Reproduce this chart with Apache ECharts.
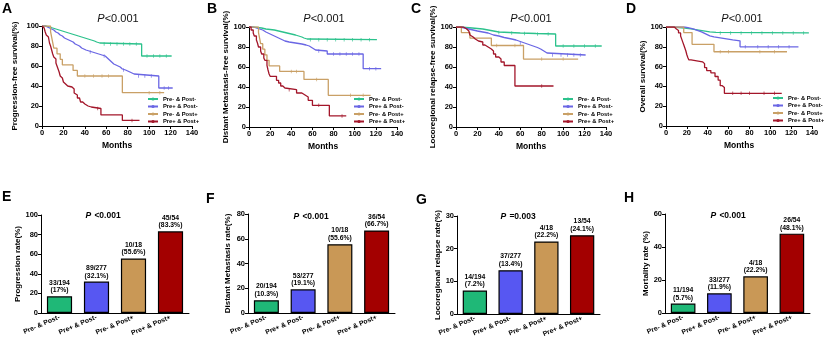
<!DOCTYPE html>
<html>
<head>
<meta charset="utf-8">
<script src="https://cdn.jsdelivr.net/npm/echarts@6/dist/echarts.min.js"></script>
<style>
  html, body { margin: 0; padding: 0; background: #fff; }
  #main { width: 824px; height: 350px; }
</style>
</head>
<body>
<div id="main"></div>
<script>
// groups + colours
const groups = ['Pre- & Post-', 'Pre+ & Post-', 'Pre- & Post+', 'Pre+ & Post+'];
const lineColors = ['#2cc28c', '#6a66e4', '#c9a066', '#a3162a'];
const barColors = ['#1fb877', '#5757f2', '#c99856', '#a30000'];

// KM steps: [month, survival %]
const pfsNeg = [[0,100],[4,99],[7,98],[10,97],[13,96],[16,95],[19,94],[22,93],[25,92],[28,91],[31,90],[34,89],[37,88],[40,87],[43,86],[46,85],[49,84],[51,83],[54,82],[93,70],[121,70]];
const pfsPre = [[0,100],[3,99],[5,98],[7,97],[9,96],[11,94],[13,93],[15,91],[17,90],[19,88],[21,87],[23,86],[25,85],[27,84],[29,82],[31,81],[33,80],[35,78],[37,77],[39,76],[41,75],[44,74],[47,73],[50,72],[53,71],[56,70],[59,68],[61,66],[63,64],[65,62],[67,61],[69,60],[71,59],[73,57],[75,56],[78,55],[80,54],[82,53],[84,52],[86,50],[109,38],[122,38]];
const pfsPost = [[0,100],[8,94.4],[9,88.9],[10,83.3],[11,77.8],[14,72.2],[17,66.7],[19,61.1],[29,55.6],[33,50],[75,33.3],[114,33.3]];
const pfsBoth = [[0,100],[1,98],[2,96],[3,94],[4,91],[5,89],[6,87],[7,83],[8,80],[9,76],[10,72],[11,69],[12,67],[13,63],[14,60],[15,57],[16,54],[17,50],[18,48],[19,46],[20,44],[21,42],[22,40],[24,39],[28,37],[30,33],[31,31],[33,28],[35,26],[36,24],[38,22],[40,20],[43,19],[46,17.5],[55,11.1],[75,5.6],[91,5.6]];

const dmfsNeg = [[0,100],[4,99.5],[8,99],[12,98],[16,97.5],[20,97],[24,96],[28,95],[32,94],[36,93],[40,92],[44,91],[47,90],[50,89],[52,88],[55,87.3],[121,87.3]];
const dmfsPre = [[0,100],[4,99],[7,98],[10,97],[13,95],[16,93.5],[19,92],[22,90.5],[25,89],[28,87.5],[31,86],[34,85],[38,84],[44,83],[50,82],[54,81],[57,79],[60,77],[63,76],[74,73],[108,58.3],[125,58.3]];
const dmfsPost = [[0,100],[9,94.4],[10,88.9],[11,83.3],[13,77.8],[15,72.2],[17,66.7],[19,61.1],[29,55.6],[52,47.6],[75,31.7],[115,31.7]];
const dmfsBoth = [[0,100],[2,97],[4,94],[5,91],[7,87],[8,84],[9,80],[11,76],[12,73],[14,69],[15,66.7],[17,61.7],[18,57],[19,53],[20,50.7],[26,46.7],[28,44],[30,41],[32,39],[34,37.3],[45,34],[50,32],[53,30],[56,26.7],[60,21.7],[76,11.1],[92,11.1]];

const lrfsNeg = [[0,100],[5,99.5],[10,99],[15,98.5],[20,98],[25,97],[30,96],[35,95],[40,94.5],[50,94],[60,93.5],[75,93],[93,81],[136,81]];
const lrfsPre = [[0,100],[4,99],[8,98],[12,97],[16,96],[20,95],[25,94],[30,92],[35,91],[40,89.5],[45,88],[52,87],[56,85.5],[60,84],[64,82.5],[68,81],[72,79.5],[76,78],[79,76],[82,74],[85,72],[121,72]];
const lrfsPost = [[0,100],[5,94.4],[13,88.9],[33,81.5],[63,67.9],[114,67.9]];
const lrfsBoth = [[0,100],[7,98],[10,96],[12,94],[13,92],[14,90],[16,88],[18,86],[21,85],[25,82],[27,80],[30,78],[33,76],[35,73],[37,70],[40,68],[42,65],[45,61.5],[55,41],[91,41]];

const osNeg = [[0,100],[6,99.5],[12,99],[18,98],[24,97],[30,96],[36,95],[42,94.5],[48,94],[137,94]];
const osPre = [[0,100],[18,99],[22,98],[26,96.5],[30,95],[34,93],[38,91],[42,90],[46,89],[52,88],[58,87],[64,86],[71,80],[127,80]];
const osPost = [[0,100],[17,94.4],[25,82.5],[46,75],[116,75]];
const osBoth = [[0,100],[8,98],[10,96.5],[12,94],[14,91],[15,88],[16,85],[17,82],[18,79],[19,76],[20,72],[21,69],[22,66.7],[24,64.8],[35,63],[37,59],[39,56],[43,53.7],[47,50],[50,46.3],[52,40.7],[54,38.9],[56,33],[111,33]];

// censor tick months
const pfsCens = [[58,64,70,76,82,88,98,104,110,116], [45,58,76,90,96,102,114,118], [40,48,56,62,100,110], [52,84]];
const dmfsCens = [[58,66,74,82,90,98,106,114], [66,80,86,92,98,104,114,120], [40,45,64,96,108], [38,66,88]];
const lrfsCens = [[40,52,64,76,86,100,110,120,130], [60,90,98,104,110,116], [38,55,80,100], [80]];
const osCens = [[52,62,72,82,92,102,112,122,132], [76,88,98,108,118], [52,60,90,104], [64,72,80,94,104]];

// bar panels
const barCats = ['Pre- & Post-', 'Pre+ & Post-', 'Pre- & Post+', 'Pre+ & Post+'];
const progressionRate = [17, 32.1, 55.6, 83.3];
const progressionCounts = ['33/194', '89/277', '10/18', '45/54'];
const progressionPct = ['17%', '32.1%', '55.6%', '83.3%'];
const metastasisRate = [10.3, 19.1, 55.6, 66.7];
const metastasisCounts = ['20/194', '53/277', '10/18', '36/54'];
const metastasisPct = ['10.3%', '19.1%', '55.6%', '66.7%'];
const relapseRate = [7.2, 13.4, 22.2, 24.1];
const relapseCounts = ['14/194', '37/277', '4/18', '13/54'];
const relapsePct = ['7.2%', '13.4%', '22.2%', '24.1%'];
const mortalityRate = [5.7, 11.9, 22.2, 48.1];
const mortalityCounts = ['11/194', '33/277', '4/18', '26/54'];
const mortalityPct = ['5.7%', '11.9%', '22.2%', '48.1%'];

const FONT = 'Liberation Sans, Arial, sans-serif';

const kmPanels = [
  { letter: 'A', lx: 2, ly: 2, curves: [pfsNeg, pfsPre, pfsPost, pfsBoth], cens: pfsCens, name: 'Progression-free survival(%)',
    grid: { left: 42, top: 26, width: 150, height: 100 }, gap: 23, legend: { left: 147, top: 96 }, px: 118, pv: '<0.001' },
  { letter: 'B', lx: 207, ly: 2, curves: [dmfsNeg, dmfsPre, dmfsPost, dmfsBoth], cens: dmfsCens, name: 'Distant Metastasis-free survival(%)',
    grid: { left: 249, top: 27, width: 148, height: 100 }, gap: 18, legend: { left: 353, top: 96 }, px: 324, pv: '<0.001' },
  { letter: 'C', lx: 411, ly: 2, curves: [lrfsNeg, lrfsPre, lrfsPost, lrfsBoth], cens: lrfsCens, name: 'Locoregional relapse-free survival(%)',
    grid: { left: 456, top: 27, width: 150, height: 100 }, gap: 19, legend: { left: 562, top: 96 }, px: 531, pv: '<0.001' },
  { letter: 'D', lx: 626, ly: 2, curves: [osNeg, osPre, osPost, osBoth], cens: osCens, name: 'Overall survival(%)',
    grid: { left: 666, top: 27, width: 146, height: 99 }, gap: 19, legend: { left: 772, top: 95 }, px: 742, pv: '<0.001' }
];

const barPanels = [
  { letter: 'E', lx: 2, ly: 190, rate: progressionRate, counts: progressionCounts, pct: progressionPct, name: 'Progression rate(%)',
    max: 100, interval: 20, grid: { left: 41, top: 215, width: 148, height: 98 }, gap: 19, px: 103, py: 216, pv: '<0.001' },
  { letter: 'F', lx: 206, ly: 192, rate: metastasisRate, counts: metastasisCounts, pct: metastasisPct, name: 'Distant Metastasis rate(%)',
    max: 80, interval: 20, grid: { left: 248, top: 214, width: 147, height: 99 }, gap: 16, px: 311, py: 217, pv: '<0.001' },
  { letter: 'G', lx: 416, ly: 193, rate: relapseRate, counts: relapseCounts, pct: relapsePct, name: 'Locoregional relapse rate(%)',
    max: 30, interval: 10, grid: { left: 457, top: 216, width: 143, height: 98 }, gap: 14, px: 518, py: 217, pv: '=0.003' },
  { letter: 'H', lx: 624, ly: 191, rate: mortalityRate, counts: mortalityCounts, pct: mortalityPct, name: 'Mortality rate (%)',
    max: 60, interval: 20, grid: { left: 665, top: 214, width: 145, height: 99 }, gap: 14, px: 728, py: 216, pv: '<0.001' }
];

function survivalAt(steps, t) {
  let s = steps[0][1];
  for (const [m, v] of steps) { if (m <= t) s = v; }
  return s;
}

const axisLine = { lineStyle: { color: '#000', width: 1 } };
const axisTick = { length: 3, lineStyle: { color: '#000', width: 1 } };
const tickLabel = { color: '#000', fontSize: 7.5, fontWeight: 'bold', fontFamily: FONT, margin: 3 };

const grid = [], xAxis = [], yAxis = [], series = [], legend = [], graphic = [];

kmPanels.forEach((p, i) => {
  grid.push(p.grid);
  xAxis.push({
    gridIndex: i, type: 'value', min: 0, max: 140, interval: 20,
    name: 'Months', nameLocation: 'middle', nameGap: 15,
    nameTextStyle: { color: '#000', fontSize: 8.5, fontWeight: 'bold', fontFamily: FONT },
    axisLine, axisTick, axisLabel: tickLabel, splitLine: { show: false }
  });
  yAxis.push({
    gridIndex: i, type: 'value', min: 0, max: 100, interval: 20,
    name: p.name, nameLocation: 'middle', nameGap: p.gap, nameRotate: 90,
    nameTextStyle: { color: '#000', fontSize: 8, fontWeight: 'bold', fontFamily: FONT },
    axisLine: { show: true, lineStyle: { color: '#000', width: 1 } }, axisTick: { show: true, length: 3, lineStyle: { color: '#000' } },
    axisLabel: tickLabel, splitLine: { show: false }
  });
  p.curves.forEach((steps, g) => {
    series.push({
      name: groups[g], type: 'line', xAxisIndex: i, yAxisIndex: i, step: 'end',
      data: steps, symbol: 'none', z: 3,
      lineStyle: { color: lineColors[g], width: 1.3 }, itemStyle: { color: lineColors[g] }
    });
    series.push({
      name: groups[g] + ' censored', type: 'scatter', xAxisIndex: i, yAxisIndex: i, z: 4,
      data: p.cens[g].map(m => [m, survivalAt(steps, m)]),
      symbol: 'rect', symbolSize: [0.8, 3.5], itemStyle: { color: lineColors[g] }, silent: true
    });
  });
  legend.push({
    data: groups, orient: 'vertical', left: p.legend.left, top: p.legend.top,
    itemWidth: 10, itemHeight: 4, itemGap: 1.5, padding: 0,
    textStyle: { fontSize: 5.8, fontWeight: 'bold', fontFamily: FONT, color: '#000', lineHeight: 6 }
  });
  graphic.push({ type: 'text', x: p.lx, y: p.ly, style: { text: p.letter, font: 'bold 14px ' + FONT, fill: '#000' } });
  graphic.push({ type: 'text', x: p.px, y: 19, style: {
    text: '{i|P}{n|' + p.pv + '}', align: 'center', verticalAlign: 'middle',
    rich: { i: { fontStyle: 'italic', fontSize: 11, fontFamily: FONT, fill: '#111' }, n: { fontSize: 11, fontFamily: FONT, fill: '#111' } }
  } });
});

barPanels.forEach((p, j) => {
  const i = j + 4;
  grid.push(p.grid);
  xAxis.push({
    gridIndex: i, type: 'category', data: barCats,
    axisLine, axisTick: { alignWithLabel: true, length: 3, lineStyle: { color: '#000' } },
    axisLabel: { color: '#000', fontSize: 6.8, fontWeight: 'bold', fontFamily: FONT, rotate: 23, margin: 4, interval: 0 }
  });
  yAxis.push({
    gridIndex: i, type: 'value', min: 0, max: p.max, interval: p.interval,
    name: p.name, nameLocation: 'middle', nameGap: p.gap, nameRotate: 90,
    nameTextStyle: { color: '#000', fontSize: 8, fontWeight: 'bold', fontFamily: FONT },
    axisLine: { show: true, lineStyle: { color: '#000', width: 1 } }, axisTick: { show: true, length: 3, lineStyle: { color: '#000' } },
    axisLabel: tickLabel, splitLine: { show: false }
  });
  series.push({
    name: 'rate' + j, type: 'bar', xAxisIndex: i, yAxisIndex: i, barWidth: '68%',
    data: p.rate.map((v, k) => ({ value: v, itemStyle: { color: barColors[k] } })),
    itemStyle: { borderColor: '#000', borderWidth: 1.2 },
    label: {
      show: true, position: 'top', distance: 2, color: '#000', fontSize: 6.8, fontWeight: 'bold', fontFamily: FONT, lineHeight: 7.8,
      formatter: (d) => p.counts[d.dataIndex] + '\n(' + p.pct[d.dataIndex] + ')'
    }
  });
  graphic.push({ type: 'text', x: p.lx, y: p.ly, style: { text: p.letter, font: 'bold 14px ' + FONT, fill: '#000' } });
  graphic.push({ type: 'text', x: p.px, y: p.py, style: {
    text: '{i|P} {n|' + p.pv + '}', align: 'center', verticalAlign: 'middle',
    rich: { i: { fontStyle: 'italic', fontWeight: 'bold', fontSize: 8.5, fontFamily: FONT, fill: '#000' },
            n: { fontWeight: 'bold', fontSize: 8.5, fontFamily: FONT, fill: '#000' } }
  } });
});

const chart = echarts.init(document.getElementById('main'), null, { renderer: 'canvas' });
chart.setOption({
  backgroundColor: '#fff',
  animation: false,
  grid, xAxis, yAxis, series, legend, graphic
});
</script>
</body>
</html>
